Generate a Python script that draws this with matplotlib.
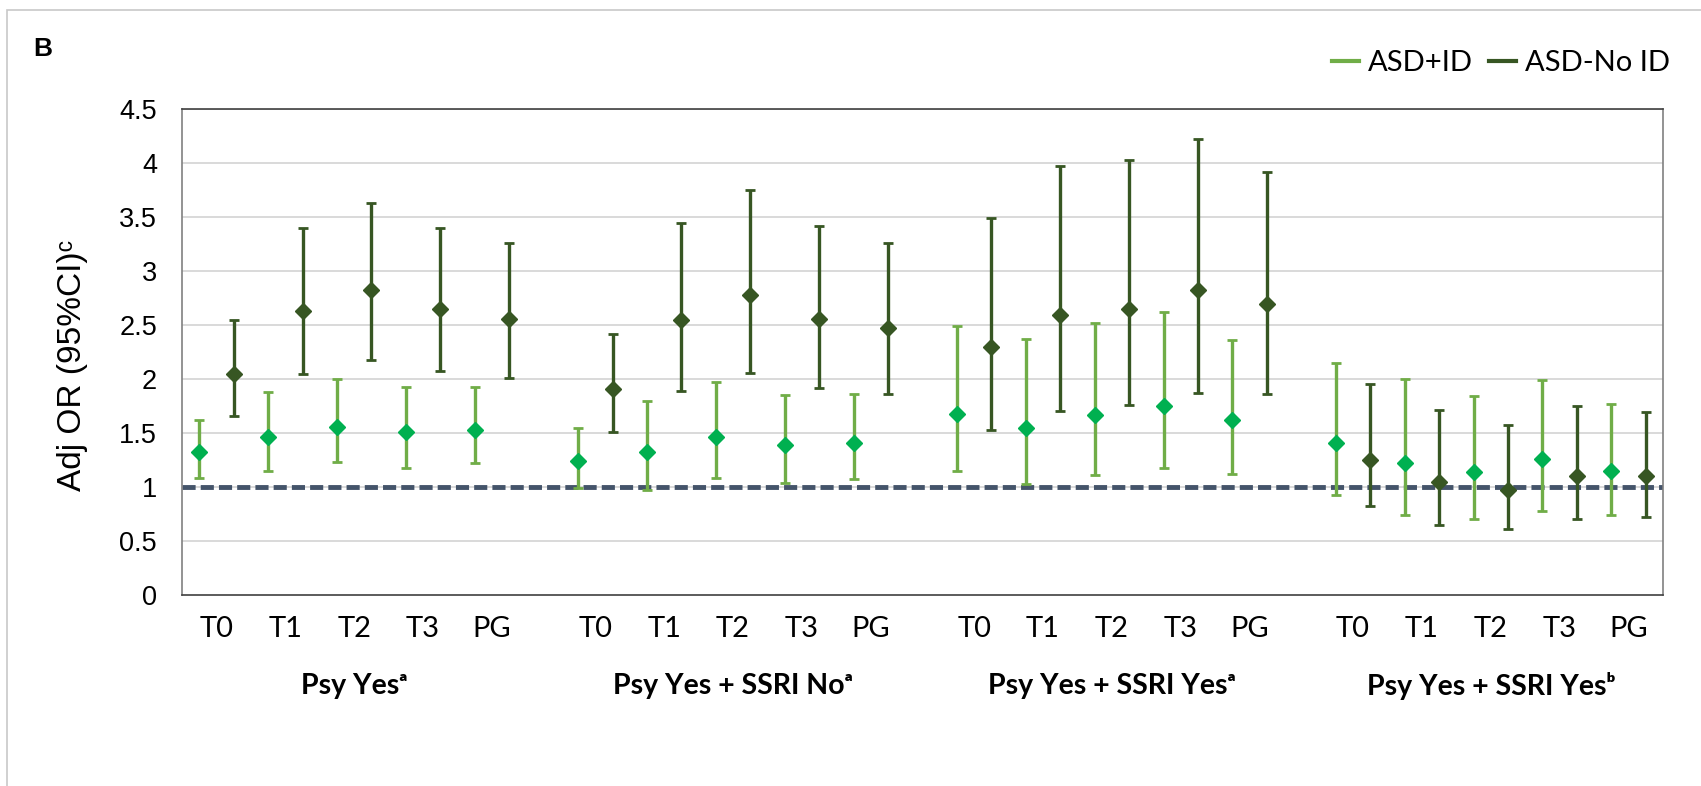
import numpy as np
import matplotlib
matplotlib.use('Agg')
import matplotlib.pyplot as plt
import matplotlib.transforms as mtransforms
from matplotlib.lines import Line2D
from matplotlib.patches import Rectangle


# Groups and time points
groups = ['Psy Yes\u1d43', 'Psy Yes + SSRI No\u1d43', 'Psy Yes + SSRI Yes\u1d43', 'Psy Yes + SSRI Yes\u1d47']
periods = ['T0', 'T1', 'T2', 'T3', 'PG']

# ASD+ID adjusted OR with 95% CI
id_or = [1.32, 1.46, 1.56, 1.51, 1.53,
         1.24, 1.32, 1.46, 1.39, 1.41,
         1.68, 1.55, 1.67, 1.75, 1.62,
         1.41, 1.22, 1.14, 1.26, 1.15]
id_lo = [1.08, 1.15, 1.23, 1.18, 1.22,
         0.99, 0.97, 1.08, 1.04, 1.07,
         1.15, 1.03, 1.11, 1.18, 1.12,
         0.93, 0.74, 0.70, 0.78, 0.74]
id_hi = [1.62, 1.88, 2.00, 1.93, 1.93,
         1.55, 1.80, 1.97, 1.85, 1.86,
         2.49, 2.37, 2.52, 2.62, 2.36,
         2.15, 2.00, 1.84, 1.99, 1.77]

# ASD-No ID adjusted OR with 95% CI
noid_or = [2.05, 2.63, 2.82, 2.65, 2.56,
           1.91, 2.55, 2.78, 2.56, 2.47,
           2.30, 2.59, 2.65, 2.82, 2.69,
           1.25, 1.05, 0.97, 1.10, 1.10]
noid_lo = [1.66, 2.05, 2.18, 2.07, 2.01,
           1.51, 1.89, 2.06, 1.92, 1.86,
           1.53, 1.70, 1.76, 1.87, 1.86,
           0.82, 0.65, 0.61, 0.70, 0.72]
noid_hi = [2.55, 3.40, 3.63, 3.40, 3.26,
           2.42, 3.44, 3.75, 3.42, 3.26,
           3.49, 3.97, 4.03, 4.22, 3.92,
           1.95, 1.71, 1.57, 1.75, 1.69]

y_ticks = [0, 0.5, 1, 1.5, 2, 2.5, 3, 3.5, 4, 4.5]

c_id_bar = '#70AD47'
c_id_mark = '#00B050'
c_noid = '#375623'

calibri = ['Lato', 'DejaVu Sans']
arial = ['Liberation Sans', 'DejaVu Sans']

fig = plt.figure(figsize=(17.01, 7.86), dpi=100)
W, H = 1701, 786
ax = fig.add_axes([182 / W, 1 - 595 / H, (1663 - 182) / W, (595 - 109) / H])

# category slots: 5 per group, half a slot gap between groups
group_step = 5.5
n_per = len(periods)
slot = np.array([g * group_step + i for g in range(len(groups)) for i in range(n_per)], dtype=float)

id_or = np.array(id_or); id_lo = np.array(id_lo); id_hi = np.array(id_hi)
noid_or = np.array(noid_or); noid_lo = np.array(noid_lo); noid_hi = np.array(noid_hi)

ax.set_xlim(0, group_step * len(groups) - 0.5)
ax.set_ylim(0, 4.5)

for v in y_ticks[1:]:
    ax.axhline(v, color='#D9D9D9', lw=1.4, zorder=1)
ax.axhline(1, color='#44546A', lw=3.5, ls=(0, (2.7, 1.05)), zorder=2)

ax.errorbar(slot + 0.25, id_or, yerr=[id_or - id_lo, id_hi - id_or], fmt='none',
            ecolor=c_id_bar, elinewidth=2.4, capsize=3.9, capthick=2.0, zorder=3)
ax.errorbar(slot + 0.75, noid_or, yerr=[noid_or - noid_lo, noid_hi - noid_or], fmt='none',
            ecolor=c_noid, elinewidth=2.4, capsize=3.9, capthick=2.0, zorder=3)
ax.plot(slot + 0.25, id_or, 'D', color=c_id_mark, ms=8.2, mec=c_id_mark, zorder=4)
ax.plot(slot + 0.75, noid_or, 'D', color=c_noid, ms=8.2, mec=c_noid, zorder=4)

ax.set_yticks(y_ticks)
ax.set_yticklabels([f'{v:g}' for v in y_ticks], family=arial, fontsize=19.5)
ax.set_xticks(slot + 0.5)
ax.set_xticklabels(periods * len(groups), family=calibri, fontsize=21)
ax.tick_params(axis='y', length=0, pad=18)
ax.tick_params(axis='x', length=0, pad=15)

for s in ['top', 'bottom']:
    ax.spines[s].set_color('#404040')
for s in ['left', 'right']:
    ax.spines[s].set_color('#808080')
for s in ax.spines.values():
    s.set_linewidth(1.2)

trans = mtransforms.blended_transform_factory(ax.transData, ax.transAxes)
for g, name in enumerate(groups):
    ax.text(g * group_step + n_per / 2, -0.187, name, transform=trans, ha='center', va='center',
            fontsize=20.5, fontweight='bold', family=calibri)

fig.text(73 / W, 1 - 365 / H, 'Adj OR (95%CI)\u1d9c', rotation=90, ha='center', va='center',
         fontsize=24, family=arial)
fig.text(33 / W, 1 - 49 / H, 'B', ha='left', va='center', fontsize=19, fontweight='bold', family=arial)

handles = [Line2D([], [], color=c_id_bar, lw=3), Line2D([], [], color=c_noid, lw=3)]
fig.legend(handles, ['ASD+ID', 'ASD-No ID'], loc='center right', bbox_to_anchor=(1670 / W, 1 - 63 / H),
           ncol=2, frameon=False, prop={'family': calibri, 'size': 21}, handlelength=0.93,
           handletextpad=0.3, columnspacing=0.55, borderpad=0, borderaxespad=0)

# chart area border (top and left visible)
fig.add_artist(Rectangle((7 / W, -0.1), 1.2, 1.1 - 10 / H, transform=fig.transFigure,
                         fill=False, ec='#C8C8C8', lw=1.2))

fig.savefig('out.png', dpi=100)
